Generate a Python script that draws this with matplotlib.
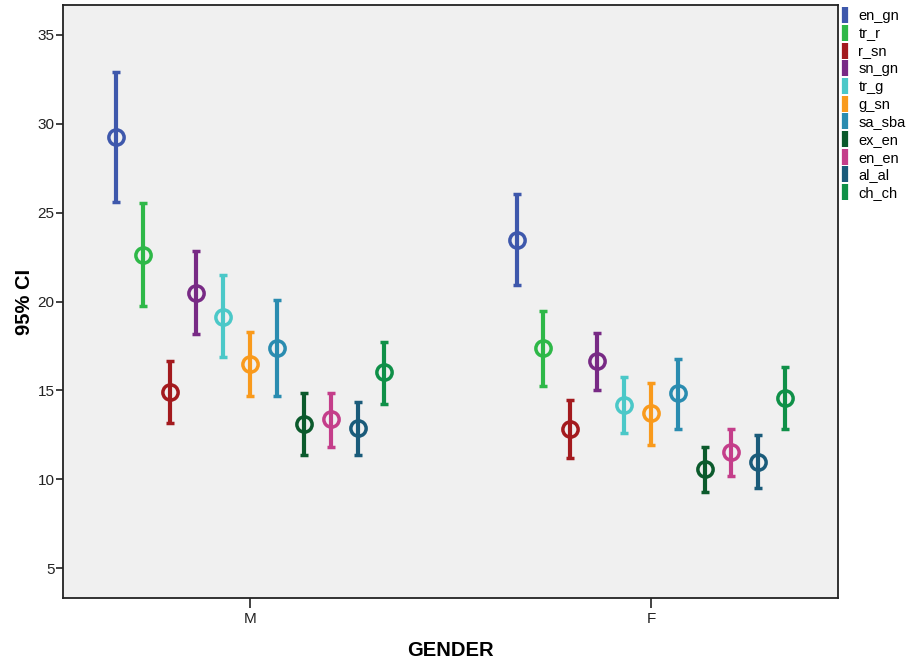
import matplotlib
matplotlib.use("Agg")
import matplotlib.pyplot as plt
from matplotlib.lines import Line2D
import numpy as np

plt.rcParams['font.family'] = ['Liberation Sans', 'DejaVu Sans']

# Gruppen und Serien
genders = ["M", "F"]
series = ["en_gn", "tr_r", "r_sn", "sn_gn", "tr_g", "g_sn",
          "sa_sba", "ex_en", "en_en", "al_al", "ch_ch"]
colors = ["#3E58AC", "#2EB848", "#A31A1E", "#782A85", "#4BC8C8", "#F99A1C",
          "#2A8CB0", "#0B5A2C", "#C43E8A", "#1A5B7A", "#0F9048"]

# Mittelwerte, untere und obere Grenze (95% CI), je [M, F]
means = {
    "en_gn": [29.27, 23.48], "tr_r": [22.62, 17.37], "r_sn": [14.93, 12.85],
    "sn_gn": [20.50, 16.64], "tr_g": [19.15, 14.18], "g_sn": [16.49, 13.72],
    "sa_sba": [17.41, 14.84], "ex_en": [13.12, 10.57], "en_en": [13.38, 11.53],
    "al_al": [12.87, 11.00], "ch_ch": [16.02, 14.56],
}
lower = {
    "en_gn": [25.61, 20.91], "tr_r": [19.77, 15.27], "r_sn": [13.19, 11.22],
    "sn_gn": [18.18, 15.03], "tr_g": [16.87, 12.59], "g_sn": [14.69, 11.94],
    "sa_sba": [14.71, 12.84], "ex_en": [11.37, 9.31], "en_en": [11.84, 10.19],
    "al_al": [11.37, 9.50], "ch_ch": [14.24, 12.84],
}
upper = {
    "en_gn": [32.92, 26.05], "tr_r": [25.52, 19.47], "r_sn": [16.67, 14.47],
    "sn_gn": [22.82, 18.23], "tr_g": [21.47, 15.78], "g_sn": [18.29, 15.44],
    "sa_sba": [20.09, 16.79], "ex_en": [14.88, 11.81], "en_en": [14.88, 12.85],
    "al_al": [14.37, 12.48], "ch_ch": [17.74, 16.30],
}

fig = plt.figure(figsize=(9.12, 6.63), dpi=100)
ax = fig.add_axes([0.0691, 0.098, 0.8498, 0.8944])
ax.set_facecolor("#F0F0F0")

x = np.arange(len(genders))
step = 0.067
n = len(series)
handles = []
for i, name in enumerate(series):
    xi = x + (i - (n - 1) / 2) * step
    m = np.array(means[name])
    lo = m - np.array(lower[name])
    hi = np.array(upper[name]) - m
    ax.errorbar(xi, m, yerr=[lo, hi], fmt='o', color=colors[i],
                ecolor=colors[i], elinewidth=3.0, capsize=2.6, capthick=3.2,
                markersize=11, markerfacecolor='none',
                markeredgewidth=2.5, markeredgecolor=colors[i])
    handles.append(Line2D([], [], linestyle='none', marker='|', markersize=12,
                          markeredgewidth=4.5, color=colors[i], label=name))

ax.set_xlim(-0.467, 1.467)
ax.set_ylim(3.33, 36.67)
ax.set_xticks(x)
ax.set_xticklabels(genders)
ax.set_yticks([5, 10, 15, 20, 25, 30, 35])
ax.tick_params(axis='y', length=5, width=1.2, labelsize=11, colors='#222222', pad=1)
ax.tick_params(axis='x', length=7, width=1.2, labelsize=11, colors='#222222', pad=3)
for s in ax.spines.values():
    s.set_linewidth(1.3)
    s.set_color('#222222')

ax.set_ylabel("95% CI", fontsize=14.5, fontweight='bold', labelpad=3)
ax.set_xlabel("GENDER", fontsize=14.5, fontweight='bold', labelpad=11)

fig.legend(handles=handles, loc='upper left', bbox_to_anchor=(0.91, 1.0),
           frameon=False, fontsize=10.5, handlelength=0.7, handletextpad=0.6,
           labelspacing=0.25, borderaxespad=0.25)

fig.savefig("out.png", dpi=100)
